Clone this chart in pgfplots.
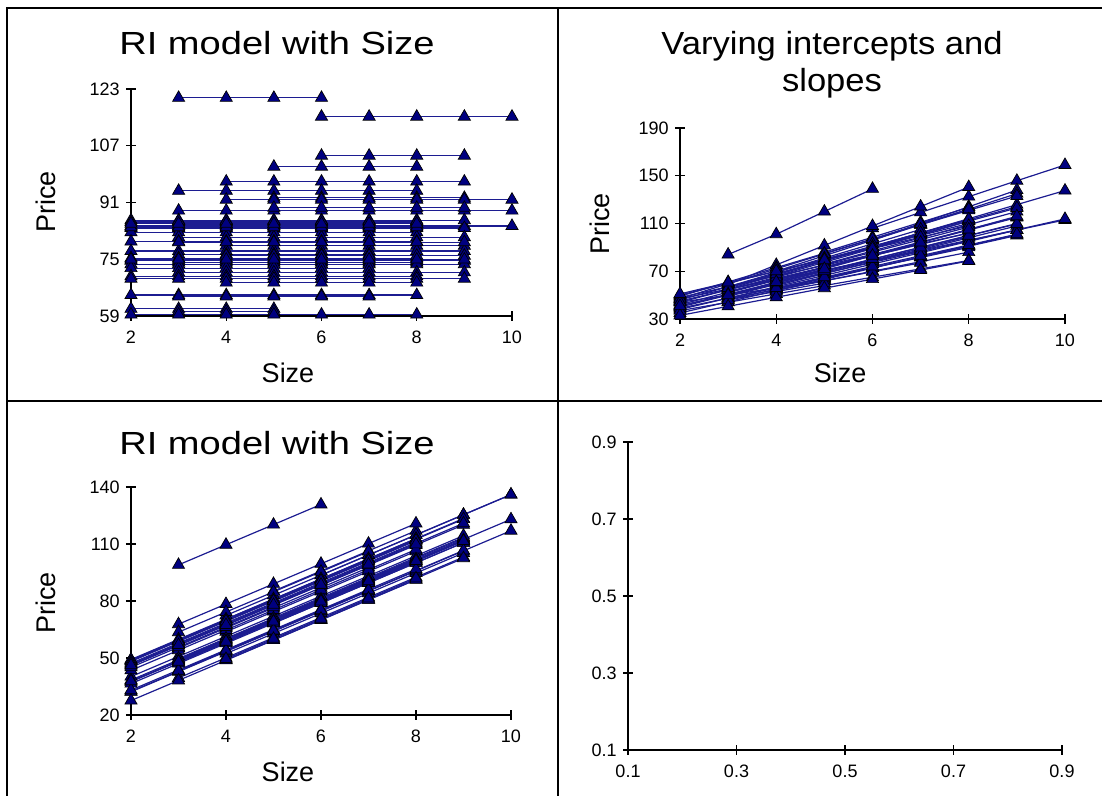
\documentclass[border=0pt]{standalone}
\usepackage{fontspec}
\setmainfont{Liberation Sans}
\newfontfamily\titlefont[FakeStretch=1.19]{Liberation Sans}
\newfontfamily\titlefontb[FakeStretch=1.08]{Liberation Sans}
\usepackage{pgfplots}
\pgfplotsset{compat=1.18}
\definecolor{linec}{RGB}{28,28,145}
\definecolor{markc}{RGB}{0,0,128}
\pgfplotsset{
  panel/.style={
    scale only axis, clip=false,
    axis x line*=bottom, axis y line*=left,
    axis line style={-, black, line width=0.8pt},
    tick align=center, major tick length=5pt,
    tick style={black, line width=0.7pt},
    /pgf/number format/assume math mode=true,
    ticklabel style={font=\fontsize{9}{10}\selectfont},
    yticklabel style={inner xsep=3pt, inner ysep=0pt},
    xticklabel style={inner ysep=5pt, inner xsep=0pt},
  },
  grp/.style={color=linec, line width=0.6pt, mark=triangle*, mark size=3.5pt,
    mark options={fill=markc, draw=black, line width=0.35pt}},
}
\begin{document}
\begin{tikzpicture}
\useasboundingbox (0,0) rectangle (551pt,398pt);
% frame
\draw[line width=1pt] (3.5pt,0) -- (3.5pt,394pt) -- (551pt,394pt);
\draw[line width=1.2pt] (279pt,0) -- (279pt,394pt);
\draw[line width=1.2pt] (3.5pt,197.5pt) -- (551pt,197.5pt);

% ---------------- top left ----------------
\begin{axis}[panel, at={(65.5pt,240pt)}, anchor=south west,
  width=190.5pt, height=113.5pt,
  xmin=2, xmax=10, ymin=59, ymax=123,
  xtick={2,4,6,8,10}, ytick={59,75,91,107,123}]
\addplot[grp] coordinates {(3,120.5)(4,120.5)(5,120.5)(6,120.5)};
\addplot[grp] coordinates {(6,115.2)(7,115.2)(8,115.2)(9,115.2)(10,115.2)};
\addplot[grp] coordinates {(6,104.2)(7,104.2)(8,104.2)(9,104.2)};
\addplot[grp] coordinates {(5,101.1)(6,101.1)(7,101.1)(8,101.1)};
\addplot[grp] coordinates {(4,96.9)(5,96.9)(6,96.9)(7,96.9)(8,96.9)(9,96.9)};
\addplot[grp] coordinates {(3,94.3)(4,94.3)(5,94.3)(6,94.3)(7,94.3)(8,94.3)};
\addplot[grp] coordinates {(5,92.3)(6,92.3)(7,92.3)(8,92.3)(9,92.3)};
\addplot[grp] coordinates {(4,91.8)(5,91.8)(6,91.8)(7,91.8)(8,91.8)(9,91.8)(10,91.8)};
\addplot[grp] coordinates {(3,88.7)(4,88.7)(5,88.7)(6,88.7)(7,88.7)(8,88.7)(9,88.7)(10,88.7)};
\addplot[grp] coordinates {(5,89.5)(6,89.5)(7,89.5)(8,89.5)(9,89.5)};
\addplot[grp] coordinates {(2,84.4)(3,84.4)(4,84.4)(5,84.4)(6,84.4)(7,84.4)(8,84.4)(9,84.4)(10,84.4)};
\addplot[grp] coordinates {(2,86.0)(3,86.0)(4,86.0)(5,86.0)(6,86.0)(7,86.0)(8,86.0)(9,86.0)};
\addplot[grp] coordinates {(2,85.5)(3,85.5)(4,85.5)(5,85.5)(6,85.5)(7,85.5)(8,85.5)};
\addplot[grp] coordinates {(4,85.0)(5,85.0)(6,85.0)(7,85.0)(8,85.0)};
\addplot[grp] coordinates {(3,84.8)(4,84.8)(5,84.8)(6,84.8)(7,84.8)};
\addplot[grp] coordinates {(2,83.8)(3,83.8)(4,83.8)(5,83.8)(6,83.8)(7,83.8)(8,83.8)(9,83.8)};
\addplot[grp] coordinates {(2,82.6)(3,82.6)(4,82.6)(5,82.6)(6,82.6)(7,82.6)(8,82.6)};
\addplot[grp] coordinates {(3,81.2)(4,81.2)(5,81.2)(6,81.2)(7,81.2)(8,81.2)(9,81.2)};
\addplot[grp] coordinates {(2,80.0)(3,80.0)(4,80.0)(5,80.0)(6,80.0)(7,80.0)(8,80.0)};
\addplot[grp] coordinates {(4,78.8)(5,78.8)(6,78.8)(7,78.8)(8,78.8)(9,78.8)};
\addplot[grp] coordinates {(2,77.3)(3,77.3)(4,77.3)(5,77.3)(6,77.3)(7,77.3)(8,77.3)(9,77.3)};
\addplot[grp] coordinates {(3,76.4)(4,76.4)(5,76.4)(6,76.4)(7,76.4)};
\addplot[grp] coordinates {(2,75.3)(3,75.3)(4,75.3)(5,75.3)(6,75.3)(7,75.3)(8,75.3)};
\addplot[grp] coordinates {(2,74.6)(3,74.6)(4,74.6)(5,74.6)(6,74.6)(7,74.6)(8,74.6)(9,74.6)};
\addplot[grp] coordinates {(3,74.1)(4,74.1)(5,74.1)(6,74.1)(7,74.1)(8,74.1)};
\addplot[grp] coordinates {(2,73.6)(3,73.6)(4,73.6)(5,73.6)(6,73.6)(7,73.6)(8,73.6)(9,73.6)};
\addplot[grp] coordinates {(2,72.5)(3,72.5)(4,72.5)(5,72.5)(6,72.5)(7,72.5)};
\addplot[grp] coordinates {(3,71.3)(4,71.3)(5,71.3)(6,71.3)(7,71.3)(8,71.3)(9,71.3)};
\addplot[grp] coordinates {(2,70.2)(3,70.2)(4,70.2)(5,70.2)(6,70.2)(7,70.2)(8,70.2)};
\addplot[grp] coordinates {(2,69.5)(3,69.5)(4,69.5)(5,69.5)(6,69.5)(7,69.5)(8,69.5)(9,69.5)};
\addplot[grp] coordinates {(4,68.4)(5,68.4)(6,68.4)(7,68.4)(8,68.4)};
\addplot[grp] coordinates {(2,64.9)(3,64.9)(4,64.9)(5,64.9)(6,64.9)(7,64.9)(8,64.9)};
\addplot[grp] coordinates {(3,64.5)(4,64.5)(5,64.5)(6,64.5)(7,64.5)};
\addplot[grp] coordinates {(2,61.0)(3,61.0)(4,61.0)(5,61.0)};
\addplot[grp] coordinates {(3,60.3)(4,60.3)(5,60.3)};
\addplot[grp] coordinates {(2,59.4)(3,59.4)(4,59.4)(5,59.4)(6,59.4)(7,59.4)(8,59.4)};
\addplot[grp] coordinates {(2,84.0)(3,84.0)(4,84.0)(5,84.0)(6,84.0)(7,84.0)(8,84.0)};
\addplot[grp] coordinates {(3,85.8)(4,85.8)(5,85.8)(6,85.8)(7,85.8)(8,85.8)};
\addplot[grp] coordinates {(4,76.0)(5,76.0)(6,76.0)(7,76.0)(8,76.0)(9,76.0)};
\addplot[grp] coordinates {(2,74.9)(3,74.9)(4,74.9)(5,74.9)(6,74.9)(7,74.9)(8,74.9)(9,74.9)};
\addplot[grp] coordinates {(2,85.0)(3,85.0)(4,85.0)(5,85.0)(6,85.0)(7,85.0)(8,85.0)};
\addplot[grp] coordinates {(3,79.8)(4,79.8)(5,79.8)(6,79.8)(7,79.8)(8,79.8)(9,79.8)};
\end{axis}

% ---------------- top right ----------------
\begin{axis}[panel, at={(340pt,238.5pt)}, anchor=south west,
  width=192.5pt, height=95.5pt,
  xmin=2, xmax=10, ymin=30, ymax=190,
  xtick={2,4,6,8,10}, ytick={30,70,110,150,190}]
\addplot[grp] coordinates {(3,84)(4,101)(5,120)(6,139)};
\addplot[grp] coordinates {(6,106)(7,119.3)(8,132.5)(9,145.8)(10,159)};
\addplot[grp] coordinates {(6,96)(7,110)(8,124)(9,138)};
\addplot[grp] coordinates {(5,86)(6,98.5)(7,111)(8,123.5)};
\addplot[grp] coordinates {(4,70)(5,83)(6,96)(7,109)(8,122)(9,135)};
\addplot[grp] coordinates {(3,59)(4,75.3)(5,91.6)(6,107.9)(7,124.2)(8,140.5)};
\addplot[grp] coordinates {(5,80)(6,91)(7,102)(8,113)(9,124)};
\addplot[grp] coordinates {(4,62)(5,70.5)(6,79)(7,87.5)(8,96)(9,104.5)(10,113)};
\addplot[grp] coordinates {(3,55)(4,66.8)(5,78.6)(6,90.4)(7,102.2)(8,114)(9,125.8)(10,137.6)};
\addplot[grp] coordinates {(5,76)(6,87)(7,98)(8,109)(9,120)};
\addplot[grp] coordinates {(2,41)(3,50.1)(4,59.2)(5,68.3)(6,77.4)(7,86.5)(8,95.6)(9,104.7)(10,113.8)};
\addplot[grp] coordinates {(2,49)(3,61)(4,73)(5,85)(6,97)(7,109)(8,121)(9,133)};
\addplot[grp] coordinates {(2,47)(3,59.5)(4,72)(5,84.5)(6,97)(7,109.5)(8,122)};
\addplot[grp] coordinates {(4,66)(5,77.5)(6,89)(7,100.5)(8,112)};
\addplot[grp] coordinates {(3,57)(4,69)(5,81)(6,93)(7,105)};
\addplot[grp] coordinates {(2,46)(3,57)(4,68)(5,79)(6,90)(7,101)(8,112)(9,123)};
\addplot[grp] coordinates {(2,50)(3,60)(4,70)(5,80)(6,90)(7,100)(8,110)};
\addplot[grp] coordinates {(3,52)(4,62.5)(5,73)(6,83.5)(7,94)(8,104.5)(9,115)};
\addplot[grp] coordinates {(2,48)(3,57)(4,66)(5,75)(6,84)(7,93)(8,102)};
\addplot[grp] coordinates {(4,58)(5,68)(6,78)(7,88)(8,98)(9,108)};
\addplot[grp] coordinates {(2,42)(3,52.5)(4,63)(5,73.5)(6,84)(7,94.5)(8,105)(9,115.5)};
\addplot[grp] coordinates {(3,53)(4,63)(5,73)(6,83)(7,93)};
\addplot[grp] coordinates {(2,45)(3,54.5)(4,64)(5,73.5)(6,83)(7,92.5)(8,102)};
\addplot[grp] coordinates {(2,40)(3,50)(4,60)(5,70)(6,80)(7,90)(8,100)(9,110)};
\addplot[grp] coordinates {(3,49)(4,59)(5,69)(6,79)(7,89)(8,99)};
\addplot[grp] coordinates {(2,38)(3,47.5)(4,57)(5,66.5)(6,76)(7,85.5)(8,95)(9,104.5)};
\addplot[grp] coordinates {(2,47)(3,55)(4,63)(5,71)(6,79)(7,87)};
\addplot[grp] coordinates {(3,46)(4,55)(5,64)(6,73)(7,82)(8,91)(9,100)};
\addplot[grp] coordinates {(2,39)(3,47.5)(4,56)(5,64.5)(6,73)(7,81.5)(8,90)};
\addplot[grp] coordinates {(2,35)(3,44.4)(4,53.8)(5,63.2)(6,72.6)(7,82)(8,91.4)(9,100.8)};
\addplot[grp] coordinates {(4,54)(5,62)(6,70)(7,78)(8,86)};
\addplot[grp] coordinates {(2,37)(3,44)(4,51)(5,58)(6,65)(7,72)(8,79)};
\addplot[grp] coordinates {(3,47)(4,54.5)(5,62)(6,69.5)(7,77)};
\addplot[grp] coordinates {(2,44)(3,50)(4,56)(5,62)};
\addplot[grp] coordinates {(3,46)(4,53)(5,60)};
\addplot[grp] coordinates {(2,33)(3,40.6)(4,48.2)(5,55.8)(6,63.4)(7,71)(8,78.6)};
\addplot[grp] coordinates {(2,44)(3,54.5)(4,65)(5,75.5)(6,86)(7,96.5)(8,107)};
\addplot[grp] coordinates {(3,56)(4,67.5)(5,79)(6,90.5)(7,102)(8,113.5)};
\addplot[grp] coordinates {(4,56)(5,65)(6,74)(7,83)(8,92)(9,101)};
\addplot[grp] coordinates {(2,41)(3,50.8)(4,60.6)(5,70.4)(6,80.2)(7,90)(8,99.8)(9,109.6)};
\addplot[grp] coordinates {(2,51)(3,60.5)(4,70)(5,79.5)(6,89)(7,98.5)(8,108)};
\addplot[grp] coordinates {(3,50)(4,61)(5,72)(6,83)(7,94)(8,105)(9,116)};
\end{axis}

% ---------------- bottom left ----------------
\begin{axis}[panel, at={(65.5pt,40.5pt)}, anchor=south west,
  width=190pt, height=114pt,
  xmin=2, xmax=10, ymin=20, ymax=140,
  xtick={2,4,6,8,10}, ytick={20,50,80,110,140}]
\addplot[grp] coordinates {(3,99)(4,109.6)(5,120.2)(6,130.8)};
\addplot[grp] coordinates {(6,93.6)(7,104.2)(8,114.8)(9,125.4)(10,136)};
\addplot[grp] coordinates {(6,88.3)(7,98.9)(8,109.5)(9,120.1)};
\addplot[grp] coordinates {(5,85.2)(6,95.8)(7,106.4)(8,117)};
\addplot[grp] coordinates {(4,70.4)(5,81)(6,91.6)(7,102.2)(8,112.8)(9,123.4)};
\addplot[grp] coordinates {(3,67.8)(4,78.4)(5,89)(6,99.6)(7,110.2)(8,120.8)};
\addplot[grp] coordinates {(5,71.1)(6,81.7)(7,92.3)(8,102.9)(9,113.5)};
\addplot[grp] coordinates {(4,72.4)(5,83)(6,93.6)(7,104.2)(8,114.8)(9,125.4)(10,136)};
\addplot[grp] coordinates {(3,48.8)(4,59.4)(5,70)(6,80.6)(7,91.2)(8,101.8)(9,112.4)(10,123)};
\addplot[grp] coordinates {(5,68.3)(6,78.9)(7,89.5)(8,100.1)(9,110.7)};
\addplot[grp] coordinates {(2,32.2)(3,42.8)(4,53.4)(5,64)(6,74.6)(7,85.2)(8,95.8)(9,106.4)(10,117)};
\addplot[grp] coordinates {(2,48.9)(3,59.5)(4,70.1)(5,80.7)(6,91.3)(7,101.9)(8,112.5)(9,123.1)};
\addplot[grp] coordinates {(2,48.5)(3,59.1)(4,69.7)(5,80.3)(6,90.9)(7,101.5)(8,112.1)};
\addplot[grp] coordinates {(4,63.8)(5,74.4)(6,85)(7,95.6)(8,106.2)};
\addplot[grp] coordinates {(3,63.6)(4,74.2)(5,84.8)(6,95.4)(7,106)};
\addplot[grp] coordinates {(2,46.7)(3,57.3)(4,67.9)(5,78.5)(6,89.1)(7,99.7)(8,110.3)(9,120.9)};
\addplot[grp] coordinates {(2,49.2)(3,59.8)(4,70.4)(5,81)(6,91.6)(7,102.2)(8,112.8)};
\addplot[grp] coordinates {(3,49.4)(4,60)(5,70.6)(6,81.2)(7,91.8)(8,102.4)(9,113)};
\addplot[grp] coordinates {(2,48.2)(3,58.8)(4,69.4)(5,80)(6,90.6)(7,101.2)(8,111.8)};
\addplot[grp] coordinates {(4,52.3)(5,62.9)(6,73.5)(7,84.1)(8,94.7)(9,105.3)};
\addplot[grp] coordinates {(2,40.2)(3,50.8)(4,61.4)(5,72)(6,82.6)(7,93.2)(8,103.8)(9,114.4)};
\addplot[grp] coordinates {(3,55.2)(4,65.8)(5,76.4)(6,87)(7,97.6)};
\addplot[grp] coordinates {(2,43.5)(3,54.1)(4,64.7)(5,75.3)(6,85.9)(7,96.5)(8,107.1)};
\addplot[grp] coordinates {(2,37.5)(3,48.1)(4,58.7)(5,69.3)(6,79.9)(7,90.5)(8,101.1)(9,111.7)};
\addplot[grp] coordinates {(3,47.6)(4,58.2)(5,68.8)(6,79.4)(7,90)(8,100.6)};
\addplot[grp] coordinates {(2,36.5)(3,47.1)(4,57.7)(5,68.3)(6,78.9)(7,89.5)(8,100.1)(9,110.7)};
\addplot[grp] coordinates {(2,46)(3,56.6)(4,67.2)(5,77.8)(6,88.4)(7,99)};
\addplot[grp] coordinates {(3,39.5)(4,50.1)(5,60.7)(6,71.3)(7,81.9)(8,92.5)(9,103.1)};
\addplot[grp] coordinates {(2,38.4)(3,49)(4,59.6)(5,70.2)(6,80.8)(7,91.4)(8,102)};
\addplot[grp] coordinates {(2,32.4)(3,43)(4,53.6)(5,64.2)(6,74.8)(7,85.4)(8,96)(9,106.6)};
\addplot[grp] coordinates {(4,48.9)(5,59.5)(6,70.1)(7,80.7)(8,91.3)};
\addplot[grp] coordinates {(2,33.1)(3,43.7)(4,54.3)(5,64.9)(6,75.5)(7,86.1)(8,96.7)};
\addplot[grp] coordinates {(3,43.3)(4,53.9)(5,64.5)(6,75.1)(7,85.7)};
\addplot[grp] coordinates {(2,45.1)(3,55.7)(4,66.3)(5,76.9)};
\addplot[grp] coordinates {(3,49.7)(4,60.3)(5,70.9)};
\addplot[grp] coordinates {(2,27.6)(3,38.2)(4,48.8)(5,59.4)(6,70)(7,80.6)(8,91.2)};
\addplot[grp] coordinates {(2,47.2)(3,57.8)(4,68.4)(5,79)(6,89.6)(7,100.2)(8,110.8)};
\addplot[grp] coordinates {(3,58.8)(4,69.4)(5,80)(6,90.6)(7,101.2)(8,111.8)};
\addplot[grp] coordinates {(4,49.5)(5,60.1)(6,70.7)(7,81.3)(8,91.9)(9,102.5)};
\addplot[grp] coordinates {(2,37.8)(3,48.4)(4,59)(5,69.6)(6,80.2)(7,90.8)(8,101.4)(9,112)};
\addplot[grp] coordinates {(2,46.2)(3,56.8)(4,67.4)(5,78)(6,88.6)(7,99.2)(8,109.8)};
\addplot[grp] coordinates {(3,48)(4,58.6)(5,69.2)(6,79.8)(7,90.4)(8,101)(9,111.6)};
\end{axis}

% ---------------- bottom right (empty) ----------------
\begin{axis}[panel, at={(314pt,23pt)}, anchor=south west,
  width=217pt, height=154pt,
  xmin=0.1, xmax=0.9, ymin=0.1, ymax=0.9,
  xtick={0.1,0.3,0.5,0.7,0.9}, ytick={0.1,0.3,0.5,0.7,0.9}]
\end{axis}

% titles and labels
\node[anchor=base, font=\titlefont\fontsize{16}{18}\selectfont] at (138.5pt,370.5pt) {RI model with Size};
\node[anchor=base, font=\titlefontb\fontsize{16}{18}\selectfont] at (416pt,370.5pt) {Varying intercepts and};
\node[anchor=base, font=\titlefontb\fontsize{16}{18}\selectfont] at (416pt,352pt) {slopes};
\node[anchor=base, font=\titlefont\fontsize{16}{18}\selectfont] at (138.5pt,170.5pt) {RI model with Size};
\node[anchor=base, font=\fontsize{13.5}{15}\selectfont] at (144pt,206.5pt) {Size};
\node[anchor=base, font=\fontsize{13.5}{15}\selectfont] at (420pt,206.5pt) {Size};
\node[anchor=base, font=\fontsize{13.5}{15}\selectfont] at (144pt,7pt) {Size};
\node[rotate=90, font=\fontsize{13.5}{15}\selectfont] at (23pt,297pt) {Price};
\node[rotate=90, font=\fontsize{13.5}{15}\selectfont] at (300pt,286pt) {Price};
\node[rotate=90, font=\fontsize{13.5}{15}\selectfont] at (23pt,96.5pt) {Price};
\end{tikzpicture}
\end{document}
